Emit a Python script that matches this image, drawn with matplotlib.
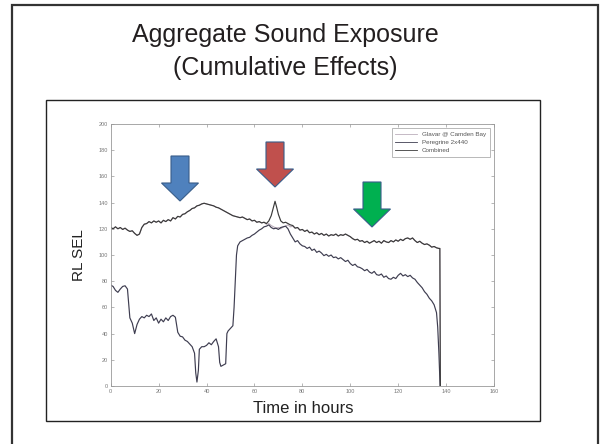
import matplotlib
matplotlib.use("Agg")
import matplotlib.pyplot as plt
from matplotlib.patches import Polygon, Rectangle

plt.rcParams["font.family"] = ["Liberation Sans", "DejaVu Sans"]

# ---------------------------------------------------------------------
# Data (hours vs. RL SEL)
# ---------------------------------------------------------------------
glavar_x = list(range(0, 138)) + [137.4, 137.6]
glavar_y = [121, 120, 121.5, 120, 121, 119.5, 120.5, 119, 118, 118.5,
            116.5, 115, 116, 121, 123.5, 124, 125.5, 124.5, 126, 125,
            126, 124.5, 126.5, 125.5, 127, 126, 128.5, 127.5, 129.5, 129,
            131, 131.5, 133, 134, 135.5, 136, 137.5, 138, 139, 139.5,
            139, 138.5, 138, 137.5, 136.5, 136, 135, 134, 133, 132,
            131, 130, 129.5, 129, 128.5, 129, 128, 127, 127.5, 126,
            126.5, 125, 125.5, 124.5, 125, 123.5, 124, 122.5, 121.5, 120.5,
            121, 120, 121.5, 122, 123, 121.5, 122, 120.5, 121, 119,
            119.5, 118, 119, 117, 117.5, 116, 117, 115.5, 116.5, 115,
            116, 114.5, 115.5, 115, 116, 114.5, 115.5, 115, 116, 115,
            114, 112.5, 111.5, 112, 110.5, 111, 109.5, 110.5, 109, 110,
            111, 109.5, 110.5, 109, 111, 110, 109.5, 111, 110, 111.5,
            110.5, 112, 111, 112.5, 113, 112, 113, 111, 109.5, 110.5,
            109, 108, 108.5, 107.5, 106, 106.5, 105.5, 105, 105, 0]

peregrine_x = [0, 1, 2, 3, 4, 5, 6, 7, 8, 9, 10, 11, 12, 13, 14, 15, 16, 17,
               18, 19, 20, 21, 22, 23, 24, 25, 26, 27, 28, 29, 30, 31, 32, 33,
               34, 35, 35.5, 36, 36.6, 37, 38, 39, 40, 41, 42, 43, 44, 45,
               45.5, 46, 47, 48, 48.5, 49, 50, 51, 51.5, 52, 52.5, 53, 54, 55,
               56, 57, 58, 59, 60, 61, 62, 63, 64, 65, 66, 67, 68, 69, 70, 71,
               72, 73, 74, 75, 76, 77, 78, 79, 80, 81, 82, 83, 84, 85, 86, 87,
               88, 89, 90, 91, 92, 93, 94, 95, 96, 97, 98, 99, 100, 101, 102,
               103, 104, 105, 106, 107, 108, 109, 110, 111, 112, 113, 114, 115,
               116, 117, 118, 119, 120, 121, 122, 123, 124, 125, 126, 127, 128,
               129, 130, 131, 132, 133, 134, 135, 136, 136.5, 137, 137.5]
peregrine_y = [77, 76, 73, 71.5, 74, 76, 76.5, 74, 52, 48, 40, 47, 51, 53,
               52, 54, 53, 55, 50, 52, 48, 51, 49, 52, 50, 53, 54, 52.5, 41,
               38, 37.5, 35, 34, 32, 30, 25, 10, 3, 12, 28, 30, 30, 31, 33,
               31.5, 34, 36, 30, 18, 15, 16, 17, 40, 42, 44, 46, 60, 80, 100,
               107, 110, 111, 112, 113, 113.5, 115, 116, 117.5, 119, 120,
               121.5, 122, 123, 121, 120, 120.5, 119.5, 121, 121.5, 122, 120,
               116, 113, 110, 111, 108.5, 107, 106.5, 105, 106, 103.5, 104.5,
               102, 103, 101.5, 99.5, 100.5, 99, 100, 98, 98.5, 97, 98, 96.5,
               95, 96, 93.5, 92, 93, 91, 90.5, 89.5, 88, 89, 87, 86, 87.5, 85,
               84.5, 85.5, 83, 84, 82, 81.5, 83, 82, 84.5, 86, 84, 85, 83.5,
               84.5, 82.5, 81.5, 79, 77, 75, 72, 70, 67, 65, 62, 56, 45, 25, 0]

combined_x = list(range(0, 68)) + [68.6, 69.2] + list(range(70, 138)) + [137.4, 137.6]
combined_y = [121, 120, 121.5, 120, 121, 119.5, 120.5, 119, 118, 118.5,
              116.5, 115, 116, 121, 123.5, 124, 125.5, 124.5, 126, 125,
              126, 124.5, 126.5, 125.5, 127, 126, 128.5, 127.5, 129.5, 129,
              131, 131.5, 133, 134, 135.5, 136, 137.5, 138, 139, 139.5,
              139, 138.5, 138, 137.5, 136.5, 136, 135, 134, 133, 132,
              131, 130, 129.5, 129, 128.5, 129, 128, 127, 127.5, 126,
              126.5, 125, 125.5, 124.5, 125, 124, 126, 130, 141, 137,
              131, 126, 124.5, 125, 124, 123, 122.5, 120.5, 121, 119,
              119.5, 118, 119, 117, 117.5, 116, 117, 115.5, 116.5, 115,
              116, 114.5, 115.5, 115, 116, 114.5, 115.5, 115, 116, 115,
              114, 112.5, 111.5, 112, 110.5, 111, 109.5, 110.5, 109, 110,
              111, 109.5, 110.5, 109, 111, 110, 109.5, 111, 110, 111.5,
              110.5, 112, 111, 112.5, 113, 112, 113, 111, 109.5, 110.5,
              109, 108, 108.5, 107.5, 106, 106.5, 105.5, 105, 105, 0]

legend_labels = ["Glavar @ Camden Bay", "Peregrine 2x440", "Combined"]
x_ticks = [0, 20, 40, 60, 80, 100, 120, 140, 160]
y_ticks = [0, 20, 40, 60, 80, 100, 120, 140, 160, 180, 200]

W, H = 600, 444


def fx(px):
    return px / W


def fy(py):
    return 1 - py / H


fig = plt.figure(figsize=(6, 4.44), dpi=100)
fig.patch.set_facecolor("white")

# slide frames
fig.patches.append(Rectangle((fx(12), fy(470)), fx(586), 465 / H, fill=False,
                             ec="#333333", lw=1.6, transform=fig.transFigure))
fig.patches.append(Rectangle((fx(45.5), fy(421)), fx(494.5), 321 / H, fill=False,
                             ec="#222222", lw=1.0, transform=fig.transFigure))

fig.text(fx(285), fy(42), "Aggregate Sound Exposure", ha="center", va="baseline",
         fontsize=18, color="#231f20")
fig.text(fx(285), fy(75), "(Cumulative Effects)", ha="center", va="baseline",
         fontsize=18, color="#231f20")

ax = fig.add_axes([fx(110.7), fy(386), (494 - 110.7) / W, (386 - 124) / H])
ax.plot(glavar_x, glavar_y, color="#bcaebc", lw=0.8, label=legend_labels[0])
ax.plot(peregrine_x, peregrine_y, color="#3e3d50", lw=0.85, label=legend_labels[1])
ax.plot(combined_x, combined_y, color="#3a3a3a", lw=0.85, label=legend_labels[2])

ax.set_xlim(0, 160)
ax.set_ylim(0, 200)
ax.set_xticks(x_ticks)
ax.set_yticks(y_ticks)
ax.tick_params(direction="in", length=2, width=0.5, colors="#999999",
               labelsize=4, labelcolor="#777777", top=True, right=True, pad=2)
for s in ax.spines.values():
    s.set_color("#999999")
    s.set_linewidth(0.6)

leg = ax.legend(loc="upper right", bbox_to_anchor=(fx(490), fy(128)),
                bbox_transform=fig.transFigure, fontsize=4.5, frameon=True,
                fancybox=False, handlelength=3.5, borderpad=0.6,
                labelspacing=0.45, borderaxespad=0)
leg.get_frame().set_edgecolor("#999999")
leg.get_frame().set_linewidth(0.6)
for t in leg.get_texts():
    t.set_color("#555555")
for ln in leg.get_lines():
    ln.set_linewidth(0.6)

fig.text(fx(303), fy(413), "Time in hours", ha="center", va="baseline",
         fontsize=12, color="#222222")
fig.text(fx(79), fy(255), "RL SEL", ha="center", va="center", rotation=90,
         fontsize=11, color="#222222")


# block arrows drawn in slide pixel coordinates
def block_arrow(cx, top, color):
    pts = [(cx - 9, top), (cx + 9, top), (cx + 9, top + 27), (cx + 18.5, top + 27),
           (cx, top + 45), (cx - 18.5, top + 27), (cx - 9, top + 27)]
    fig.patches.append(Polygon([(fx(x), fy(y)) for x, y in pts], closed=True,
                               fc=color, ec="#385d8a", lw=0.8,
                               transform=fig.transFigure, zorder=5))


block_arrow(180, 156, "#4f81bd")
block_arrow(275, 142, "#c0504d")
block_arrow(372, 182, "#00b050")

fig.savefig("out.png", dpi=100)
